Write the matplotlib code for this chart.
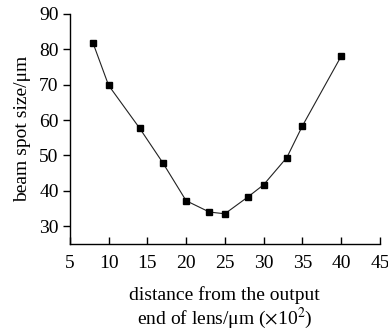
import matplotlib
matplotlib.use("Agg")
import matplotlib.pyplot as plt

x_vals = [8, 10, 14, 17, 20, 23, 25, 28, 30, 33, 35, 40]
y_vals = [81.7, 69.8, 57.7, 47.9, 37.2, 34.0, 33.5, 38.3, 41.7, 49.4, 58.3, 78.0]
x_ticks = [5, 10, 15, 20, 25, 30, 35, 40, 45]
y_ticks = [30, 40, 50, 60, 70, 80, 90]

plt.rcParams['font.family'] = ['Liberation Serif', 'DejaVu Serif']
plt.rcParams['mathtext.fontset'] = 'stix'

fig = plt.figure(figsize=(3.88, 3.30), dpi=100)
ax = fig.add_axes([0.180, 0.261, 0.799, 0.697])
ax.plot(x_vals, y_vals, color='#222222', lw=0.8, marker='s', markersize=4.5,
        markerfacecolor='black', markeredgecolor='black')
ax.set_xlim(5, 45)
ax.set_ylim(25, 90)
ax.set_xticks(x_ticks)
ax.set_yticks(y_ticks)
for s in ['top', 'right']:
    ax.spines[s].set_visible(False)
for s in ['left', 'bottom']:
    ax.spines[s].set_linewidth(1.0)
ax.tick_params(axis='x', direction='in', length=5, width=1.0, labelsize=14, pad=8)
ax.tick_params(axis='y', direction='out', length=5, width=1.0, labelsize=14, pad=3)
ax.set_xlabel('distance from the output\nend of lens/μm ($\\times$10$^2$)', fontsize=14, labelpad=10, linespacing=1.1)
ax.set_ylabel('beam spot size/μm', fontsize=14, labelpad=6)
fig.savefig('out.png', dpi=100)
